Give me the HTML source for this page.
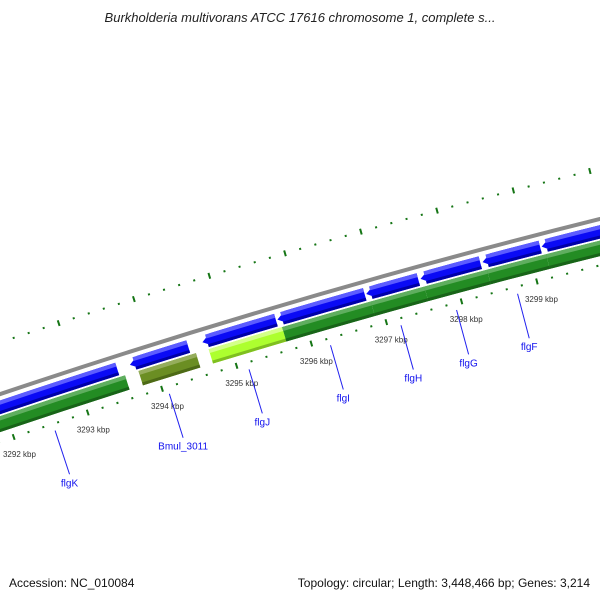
<!DOCTYPE html>
<html><head><meta charset="utf-8"><style>
body{margin:0;background:#fff}
svg{display:block;font-family:"Liberation Sans",sans-serif}
</style></head><body>
<svg id="map" width="600" height="600" viewBox="0 0 600 600">
<text x="300" y="22" text-anchor="middle" font-size="13" font-style="italic" fill="#222">Burkholderia multivorans ATCC 17616 chromosome 1, complete s...</text>
<text x="9" y="587" font-size="12" fill="#111">Accession: NC_010084</text>
<text x="590" y="587" text-anchor="end" font-size="12" fill="#111">Topology: circular; Length: 3,448,466 bp; Genes: 3,214</text>
<g id="layer"></g>
</svg>
<script>
// data (kbp)
const reverseGenes = [[3290.5,3293.53],[3293.7,3294.48],[3294.67,3295.65],[3295.67,3296.83],[3296.85,3297.54],[3297.57,3298.36],[3298.39,3299.15],[3299.17,3300.5]];
const forwardStarts = [3290.5,3293.78,3294.72,3295.7,3296.88,3297.59,3298.42,3299.2];
const forwardEnds   = [3293.6,3294.55,3295.7,3296.88,3297.59,3298.42,3299.2,3300.5];
const forwardKinds  = ["cds","olive","lime","cds","cds","cds","cds","cds"];
const geneLabels = ["flgK","Bmul_3011","flgJ","flgI","flgH","flgG","flgF"];
const geneLabelPos = [3292.53,3294.07,3295.14,3296.23,3297.17,3297.91,3298.72];
const tickLabels = ["3292 kbp","3293 kbp","3294 kbp","3295 kbp","3296 kbp","3297 kbp","3298 kbp","3299 kbp"];
const tickLabelPos = [3292,3293,3294,3295,3296,3297,3298,3299];

const CX=2470, CY=7740, NS="http://www.w3.org/2000/svg";
const layer=document.getElementById('layer');
function ang(k){return (-18.59+(k-3292)*0.58)*Math.PI/180;}
function pt(k,r){const a=ang(k);return [CX+r*Math.sin(a),CY-r*Math.cos(a)];}
function f(p){return p[0].toFixed(2)+","+p[1].toFixed(2);}
function mk(tag,attrs){const e=document.createElementNS(NS,tag);for(const k in attrs)e.setAttribute(k,attrs[k]);layer.appendChild(e);return e;}
function band(k1,k2,r1,r2,fill,arrow){
  let d;
  const o1=pt(arrow?k1+0.12:k1,r2), o2=pt(k2,r2), i2=pt(k2,r1), i1=pt(arrow?k1+0.12:k1,r1);
  d="M"+f(o1)+" A"+r2+","+r2+" 0 0 1 "+f(o2)+" L"+f(i2)+" A"+r1+","+r1+" 0 0 0 "+f(i1);
  if(arrow)d+=" L"+f(pt(k1,(r1+r2)/2));
  d+=" Z";
  return mk('path',{d:d,fill:fill});
}
// backbone
let gp=pt(3289,7750),gq=pt(3301,7750);
let bb=mk('path',{d:"M"+f(gp)+" A7750,7750 0 0 1 "+f(gq),stroke:"#8a8a8a","stroke-width":4,fill:"none"});


// reverse genes
reverseGenes.forEach((g,i)=>{
  let e=band(g[0],g[1],7731,7744,"#0a0af5",true);
  
  
  let h=band(g[0]+0.06,g[1],7740,7744,"#5c5cff",false);
  
  
  let s=band(g[0]+0.06,g[1],7731,7734,"#0000a8",false);
  
  
});
const cols={cds:["#238c23","#5fae5f","#186418"],olive:["#6b8e23","#95ad5c","#4d6a16"],lime:["#adff2f","#d4ff8a","#7fbf20"]};
forwardStarts.forEach((s,i)=>{
  const c=cols[forwardKinds[i]];
  let e=band(s,forwardEnds[i],7714,7729,c[0],false);
  
  
  let h=band(s,forwardEnds[i],7725,7729,c[1],false);
  
  
  let d=band(s,forwardEnds[i],7714,7717,c[2],false);
  
  
});
// ticks
for(let i=0;i<=60;i++){
  const k=3290+i*0.2, major=(i%5===0);
  [[7796,7802],[7702,7708]].forEach((rr,j)=>{
    const m=major?0:2;
    const a=pt(k,rr[0]+m),b=pt(k,rr[1]-m);
    let t=mk('line',{x1:a[0],y1:a[1],x2:b[0],y2:b[1],stroke:"#157515","stroke-width":major?2:2});
    
    
  });
}
tickLabels.forEach((lab,i)=>{
  const p=pt(tickLabelPos[i],7687);
  let t=mk('text',{x:p[0],y:p[1]+3,"text-anchor":"middle","font-size":8,fill:"#333"});
  t.textContent=lab;
  
  
});
geneLabels.forEach((lab,i)=>{
  const a=pt(geneLabelPos[i],7698),b=pt(geneLabelPos[i],7652);
  let l=mk('line',{x1:a[0],y1:a[1],x2:b[0],y2:b[1],stroke:"#2020ee","stroke-width":1});
  
  
  let t=mk('text',{x:b[0],y:b[1]+12,"text-anchor":"middle","font-size":10,fill:"#1010ee"});
  t.textContent=lab;
  
  
});
</script>
</body></html>
